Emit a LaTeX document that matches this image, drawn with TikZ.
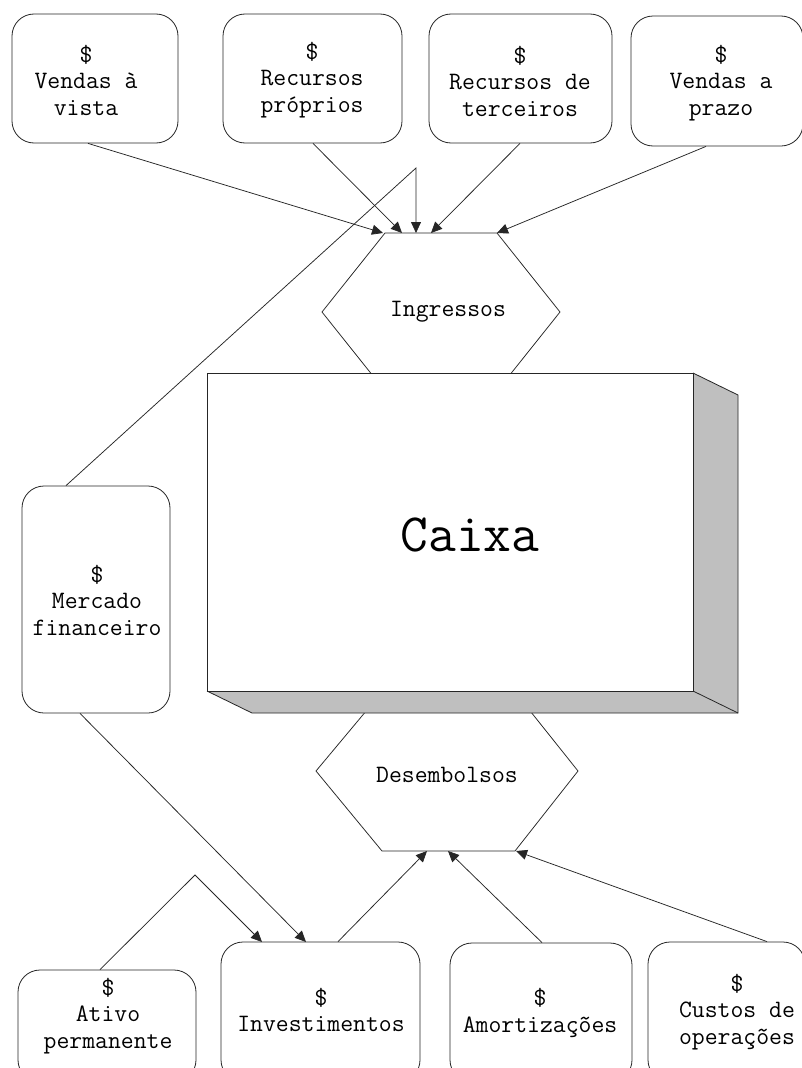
\documentclass[tikz,border=0pt]{standalone}
\usepackage{fontspec}
\usetikzlibrary{arrows.meta}
\tikzset{
  box/.style={draw=black!85, line width=0.8pt, rounded corners=22pt, inner sep=0pt, fill=white},
  txt/.style={align=center, inner sep=0pt, font=\ttfamily\fontsize{25}{26.5}\selectfont},
  conn/.style={line width=0.75pt, draw=black!85},
  arr/.style={conn, -{Triangle[length=11pt,width=10pt]}},
  hexa/.style={line width=0.75pt, draw=black!85, fill=white},
}
\begin{document}
\begin{tikzpicture}[x=1pt,y=-1pt]
\useasboundingbox (0,0) rectangle (802,1068);
\clip (0,0) rectangle (802,1068);
\fill[white] (0,0) rectangle (802,1068);

% top boxes
\node[box, minimum width=166pt, minimum height=129pt] (b1) at (95,78.5) {};
\node[txt] (t1) at (86,80) {\$\\Vendas à\\vista};
\node[box, minimum width=179pt, minimum height=129pt] (b2) at (312.5,78.5) {};
\node[txt] (t2) at (312,80) {\$\\Recursos\\próprios};
\node[box, minimum width=183pt, minimum height=129pt] (b3) at (520.5,78.5) {};
\node[txt] (t3) at (520,81) {\$\\Recursos de\\terceiros};
\node[box, minimum width=172pt, minimum height=130pt] (b4) at (717,81) {};
\node[txt] (t4) at (721,83) {\$\\Vendas a\\prazo};

% Mercado financeiro
\node[box, minimum width=148pt, minimum height=227pt] (mf) at (96,599.5) {};
\node[txt] (tmf) at (97,600) {\$\\Mercado\\financeiro};

% bottom boxes
\node[box, minimum width=178pt, minimum height=112pt] (ap) at (107,1026) {};
\node[txt] (tap) at (108,1016) {\$\\Ativo\\permanente};
\node[box, minimum width=199pt, minimum height=140pt] (inv) at (320.5,1012) {};
\node[txt] (tinv) at (321,1010) {\$\\Investimentos};
\node[box, minimum width=182pt, minimum height=139pt] (am) at (541,1012.5) {};
\node[txt] (tam) at (540,1013) {\$\\Amortizações};
\node[box, minimum width=157pt, minimum height=140pt] (co) at (726.5,1012) {};
\node[txt] (tco) at (737,1012) {\$\\Custos de\\operações};

% hexagons
\draw[hexa] (385,233) -- (497,233) -- (560,312) -- (497,391) -- (385,391) -- (322,312) -- cycle;
\node[txt] (ing) at (448,312) {Ingressos};
\draw[hexa] (382,692) -- (515,692) -- (578,771) -- (515,851) -- (382,851) -- (316,771) -- cycle;
\node[txt] (des) at (447,775) {Desembolsos};

% Caixa 3D box
\fill[black!25] (693,373) -- (738,395) -- (738,713) -- (693,691) -- cycle;
\fill[black!25] (207,691) -- (693,691) -- (738,713) -- (252,713) -- cycle;
\draw[line width=0.8pt, draw=black!85] (693,373) -- (738,395) -- (738,713) -- (252,713) -- (207,691);
\draw[line width=0.8pt, draw=black!85] (693,691) -- (738,713);
\node[draw=black!85, line width=0.8pt, fill=white, minimum width=486pt, minimum height=318pt, inner sep=0pt] (cx) at (450,532) {};
\node[inner sep=0pt, font=\ttfamily\fontsize{54}{60}\selectfont] (tcx) at (470,535) {Caixa};

% arrow target coordinates
\coordinate (a1) at (383,233);
\coordinate (a2) at (402,233);
\coordinate (a3) at (416,233);
\coordinate (a4) at (431,233);
\coordinate (a5) at (497,233);
\coordinate (k1) at (416,168);
\coordinate (d1) at (427,851);
\coordinate (d2) at (448,851);
\coordinate (d3) at (516,851);
\coordinate (k2) at (195,875);
\coordinate (e1) at (262,942);
\coordinate (e2) at (306,942);

% connectors to Ingressos
\draw[arr] ([xshift=-7pt]b1.south) -- (a1);
\draw[arr] ([xshift=0.5pt]b2.south) -- (a2);
\draw[arr] ([xshift=-0.5pt]b3.south) -- (a4);
\draw[arr] ([xshift=-11pt]b4.south) -- (a5);
\draw[arr] ([xshift=-30pt]mf.north) -- (k1) -- (a3);

% connectors to Desembolsos
\draw[arr] ([xshift=17.5pt]inv.north) -- (d1);
\draw[arr] ([xshift=1pt]am.north) -- (d2);
\draw[arr] ([xshift=40.5pt]co.north) -- (d3);

% connectors to Investimentos
\draw[arr] ([xshift=-16pt]mf.south) -- (e2);
\draw[arr] ([xshift=-7pt]ap.north) -- (k2) -- (e1);
\end{tikzpicture}
\end{document}
